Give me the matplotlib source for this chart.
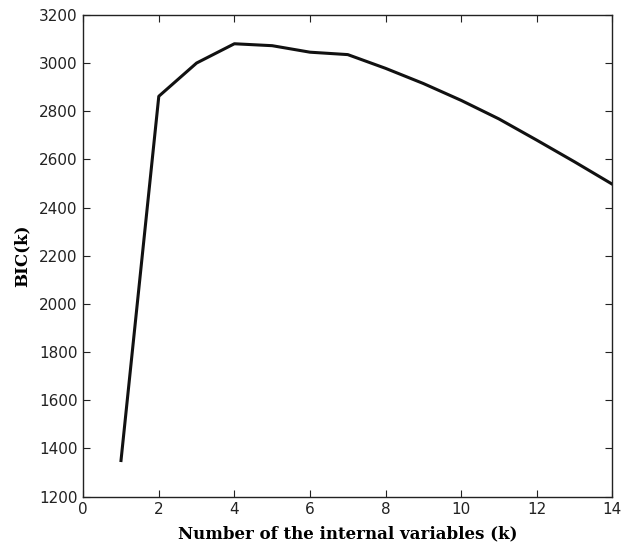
import matplotlib
matplotlib.use("Agg")
import matplotlib.pyplot as plt

# BIC versus number of internal variables
k_values = [1, 2, 3, 4, 5, 6, 7, 8, 9, 10, 11, 12, 13, 14]
bic_values = [1350, 2862, 3000, 3080, 3072, 3045, 3035, 2978, 2915, 2845, 2768, 2680, 2590, 2497]
x_ticks = [0, 2, 4, 6, 8, 10, 12, 14]
y_ticks = [1200, 1400, 1600, 1800, 2000, 2200, 2400, 2600, 2800, 3000, 3200]

fig = plt.figure(figsize=(6.21, 5.5), dpi=100)
ax = fig.add_axes([0.134, 0.097, 0.852, 0.876])

ax.plot(k_values, bic_values, color="#111111", linewidth=2.2)

ax.set_xlim(0, 14)
ax.set_ylim(1200, 3200)
ax.set_xticks(x_ticks)
ax.set_yticks(y_ticks)
ax.tick_params(direction="in", top=True, right=True, length=5,
               labelsize=11, colors="#222222", pad=4)
for sp in ax.spines.values():
    sp.set_linewidth(1.0)
    sp.set_color("#222222")

ax.set_xlabel("Number of the internal variables (k)", family="DejaVu Serif",
              fontweight="bold", fontsize=12, labelpad=6)
ax.set_ylabel("BIC(k)", family="DejaVu Serif", fontweight="bold",
              fontsize=12, labelpad=6)

fig.savefig("out.png", dpi=100)
